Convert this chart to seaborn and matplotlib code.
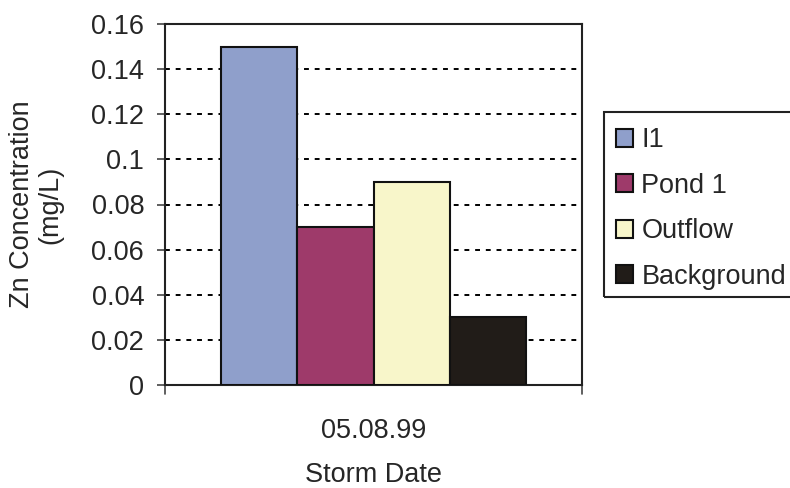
import matplotlib
matplotlib.use("Agg")
import matplotlib.pyplot as plt
import seaborn as sns
import pandas as pd
from matplotlib.patches import Rectangle
from matplotlib.ticker import FuncFormatter, MultipleLocator

# Zinc concentrations for the single storm event
storm_dates = ["05.08.99"]
sites = ["I1", "Pond 1", "Outflow", "Background"]
zn_mg_per_l = [0.15, 0.07, 0.09, 0.03]
site_colors = ["#8F9FCB", "#9E3A6A", "#F8F6CA", "#211C18"]

df = pd.DataFrame({
    "date": storm_dates * len(sites),
    "site": sites,
    "zn": zn_mg_per_l,
})

sns.set_style("white")
plt.rcParams["font.family"] = ["Liberation Sans", "DejaVu Sans"]
FS = 19.5
W, H = 790, 488

fig = plt.figure(figsize=(W / 100, H / 100), dpi=100)
ax = fig.add_axes([165 / W, 1 - 385 / H, (582 - 165) / W, (385 - 24) / H])

sns.barplot(data=df, x="date", y="zn", hue="site", hue_order=sites,
            palette=site_colors, width=0.73, edgecolor="#111111",
            linewidth=1.5, saturation=1, legend=True, ax=ax, zorder=3)

ax.set_xlim(-0.5, 0.5)
ax.set_ylim(0, 0.16)
ax.yaxis.set_major_locator(MultipleLocator(0.02))
ax.yaxis.set_major_formatter(
    FuncFormatter(lambda v, _: ("%.2f" % v).rstrip("0").rstrip(".") if v else "0"))
ax.grid(axis="y", color="black", linestyle=(0, (2.5, 3)), linewidth=1.4, zorder=1)
ax.set_axisbelow(True)

for side in ax.spines.values():
    side.set_visible(True)
    side.set_color("#222222")
    side.set_linewidth(1.5)

# Excel-style category ticks at the axis ends
ax.set_xticks([0])
ax.tick_params(axis="x", length=0, labelsize=FS, pad=24)
for xb in (-0.5, 0.5):
    ax.plot([xb, xb], [0, -0.004], color="#444444", lw=1.2,
            clip_on=False, transform=ax.transData)
ax.tick_params(axis="y", direction="out", length=6, width=1.2,
               color="#444444", labelsize=FS, left=True, pad=9)

ax.set_xlabel("Storm Date", fontsize=FS, labelpad=13)
ax.set_ylabel("Zn Concentration\n(mg/L)", fontsize=FS, labelpad=20,
              linespacing=1.1)

leg = ax.legend(loc="upper left", bbox_to_anchor=(604 / W, 1 - 115 / H),
                bbox_transform=fig.transFigure, frameon=False, fontsize=FS,
                handlelength=0.63, handleheight=0.63, handletextpad=0.3,
                labelspacing=0.72, borderpad=0.45, borderaxespad=0)
for h in leg.legend_handles:
    h.set_edgecolor("#111111")
    h.set_linewidth(1.5)

# Legend box runs past the right edge of the figure
fig.patches.append(Rectangle((604 / W, 1 - 297 / H), 220 / W, 185 / H,
                             transform=fig.transFigure, fill=False,
                             edgecolor="#222222", linewidth=1.5, zorder=5))

fig.savefig("out.png", dpi=100)
